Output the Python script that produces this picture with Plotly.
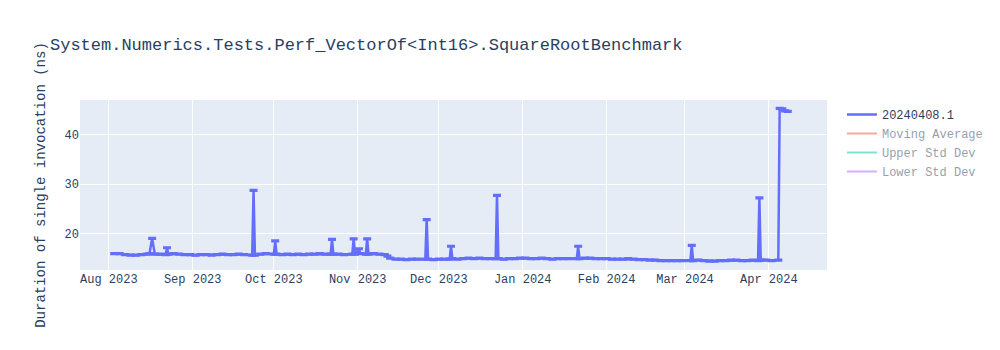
import plotly.graph_objects as go
import pandas as pd

build_name = "20240408.1"
chart_title = "System.Numerics.Tests.Perf_VectorOf<Int16>.SquareRootBenchmark"
y_title = "Duration of single invocation (ns)"

dates = [
    "2023-08-03", "2023-08-05", "2023-08-07", "2023-08-09", "2023-08-11", "2023-08-13",
    "2023-08-15", "2023-08-16", "2023-08-17", "2023-08-18", "2023-08-20", "2023-08-22 00:00",
    "2023-08-22 12:00", "2023-08-23 00:00", "2023-08-25", "2023-08-27", "2023-08-29", "2023-08-31",
    "2023-09-02", "2023-09-04", "2023-09-06", "2023-09-08", "2023-09-10", "2023-09-12",
    "2023-09-14", "2023-09-16", "2023-09-18", "2023-09-20", "2023-09-23 00:00", "2023-09-23 12:00",
    "2023-09-24 00:00", "2023-09-26", "2023-09-28", "2023-10-01 00:00", "2023-10-01 12:00", "2023-10-02 00:00",
    "2023-10-04", "2023-10-06", "2023-10-08", "2023-10-10", "2023-10-12", "2023-10-14",
    "2023-10-16", "2023-10-18", "2023-10-20", "2023-10-22 00:00", "2023-10-22 12:00", "2023-10-23 00:00",
    "2023-10-25", "2023-10-27", "2023-10-30 00:00", "2023-10-30 12:00", "2023-10-31 00:00", "2023-11-01 12:00",
    "2023-11-02 00:00", "2023-11-04 00:00", "2023-11-04 12:00", "2023-11-05 00:00", "2023-11-07", "2023-11-09",
    "2023-11-11", "2023-11-12", "2023-11-13", "2023-11-15", "2023-11-17", "2023-11-19",
    "2023-11-21", "2023-11-23", "2023-11-26 00:00", "2023-11-26 12:00", "2023-11-27 00:00", "2023-11-29",
    "2023-12-01", "2023-12-03", "2023-12-05 00:00", "2023-12-05 12:00", "2023-12-06 00:00", "2023-12-08",
    "2023-12-10", "2023-12-12", "2023-12-14", "2023-12-16", "2023-12-18", "2023-12-20",
    "2023-12-22 00:00", "2023-12-22 12:00", "2023-12-23 00:00", "2023-12-25", "2023-12-27", "2023-12-29",
    "2023-12-31", "2024-01-02", "2024-01-04", "2024-01-06", "2024-01-08", "2024-01-10",
    "2024-01-12", "2024-01-14", "2024-01-16", "2024-01-18", "2024-01-21 00:00", "2024-01-21 12:00",
    "2024-01-22 00:00", "2024-01-24", "2024-01-26", "2024-01-28", "2024-01-30", "2024-02-01",
    "2024-02-03", "2024-02-05", "2024-02-07", "2024-02-09", "2024-02-11", "2024-02-13",
    "2024-02-15", "2024-02-17", "2024-02-19", "2024-02-21", "2024-02-23", "2024-02-25",
    "2024-02-27", "2024-02-29", "2024-03-03 00:00", "2024-03-03 12:00", "2024-03-04 00:00", "2024-03-06",
    "2024-03-08", "2024-03-10", "2024-03-12", "2024-03-14", "2024-03-16", "2024-03-18",
    "2024-03-20", "2024-03-22", "2024-03-24", "2024-03-26", "2024-03-28 00:00", "2024-03-28 12:00",
    "2024-03-29 00:00", "2024-03-31", "2024-04-02", "2024-04-04 12:00", "2024-04-05 00:00", "2024-04-06",
    "2024-04-07", "2024-04-08",
]

durations = [
    15.9, 15.9, 15.7, 15.6, 15.6, 15.7,
    15.8, 15.9, 19.0, 15.8, 15.8, 15.7,
    17.1, 15.8, 15.9, 15.8, 15.7, 15.7,
    15.6, 15.7, 15.7, 15.6, 15.7, 15.8,
    15.7, 15.7, 15.8, 15.7, 15.6, 28.7,
    15.6, 15.8, 15.9, 15.8, 18.5, 15.8,
    15.7, 15.8, 15.7, 15.8, 15.7, 15.8,
    15.8, 15.9, 15.8, 15.8, 18.8, 15.8,
    15.8, 15.7, 15.8, 18.9, 15.8, 16.9,
    15.9, 15.8, 18.9, 15.8, 15.9, 15.8,
    15.7, 15.4, 15.0, 14.8, 14.8, 14.7,
    14.8, 14.8, 14.8, 22.8, 14.8, 14.7,
    14.8, 14.8, 14.8, 17.4, 14.9, 14.8,
    14.9, 15.0, 14.9, 15.0, 14.9, 14.9,
    14.9, 27.7, 14.9, 14.8, 14.9, 14.9,
    15.0, 15.0, 14.9, 14.9, 15.0, 14.9,
    14.8, 14.9, 14.9, 14.9, 14.9, 17.4,
    14.9, 15.0, 15.0, 14.9, 14.9, 14.9,
    14.8, 14.8, 14.8, 14.9, 14.8, 14.7,
    14.7, 14.6, 14.6, 14.5, 14.5, 14.5,
    14.5, 14.5, 14.5, 17.6, 14.5, 14.6,
    14.5, 14.4, 14.4, 14.5, 14.5, 14.6,
    14.6, 14.5, 14.5, 14.6, 14.5, 27.2,
    14.6, 14.6, 14.5, 14.6, 45.3, 45.2,
    44.8, 44.7,
]

std_devs = [0.12] * len(durations)

series = pd.Series(durations)
moving_avg = series.rolling(5, min_periods=1).mean()
moving_std = series.rolling(5, min_periods=1).std().fillna(0)
upper = moving_avg + moving_std
lower = moving_avg - moving_std

font_family = "Courier New, Liberation Mono, monospace"

fig = go.Figure()
fig.add_trace(go.Scatter(
    x=dates, y=durations, mode="lines", name=build_name,
    line=dict(width=2.5),
    error_y=dict(type="data", array=std_devs, visible=True),
))
fig.add_trace(go.Scatter(x=dates, y=moving_avg, mode="lines", name="Moving Average",
                         visible="legendonly"))
fig.add_trace(go.Scatter(x=dates, y=upper, mode="lines", name="Upper Std Dev",
                         visible="legendonly"))
fig.add_trace(go.Scatter(x=dates, y=lower, mode="lines", name="Lower Std Dev",
                         visible="legendonly"))

fig.update_layout(
    width=1000, height=350,
    title=dict(text=chart_title),
    font=dict(family=font_family),
    yaxis=dict(title=dict(text=y_title), range=[12.6, 47.0]),
    xaxis=dict(range=["2023-07-21 08:00", "2024-04-22 12:00"], dtick="M1",
               tickformat="%b %Y"),
)

fig.write_html("out.html")
